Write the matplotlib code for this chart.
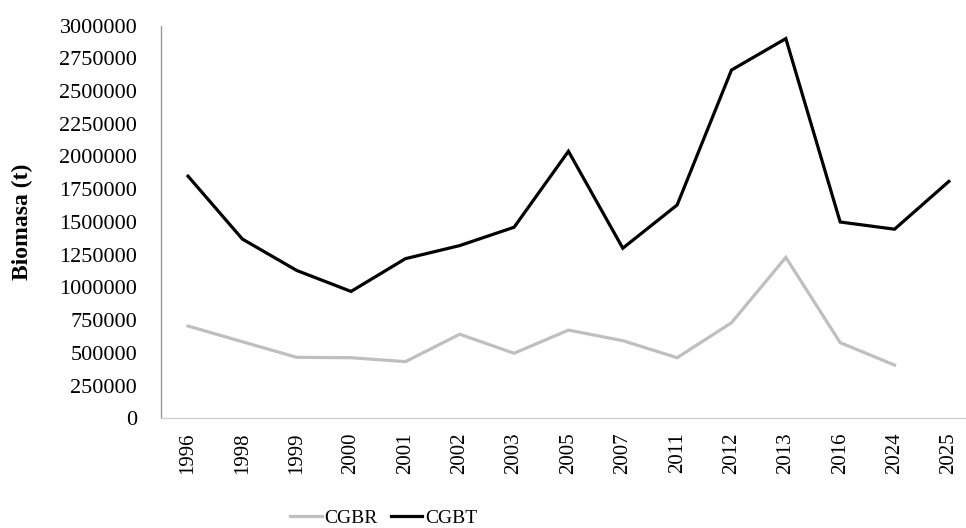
import matplotlib
matplotlib.use("Agg")
import matplotlib.pyplot as plt

years = ["1996", "1998", "1999", "2000", "2001", "2002", "2003", "2005",
         "2007", "2011", "2012", "2013", "2016", "2024", "2025"]
cgbr = [706000, 586000, 467000, 464000, 434000, 643000, 498000, 675000,
        594000, 464000, 731000, 1230000, 579000, 408000, None]
cgbt = [1850000, 1370000, 1130000, 970000, 1220000, 1320000, 1460000, 2040000,
        1300000, 1630000, 2660000, 2900000, 1500000, 1445000, 1810000]
yticks = list(range(0, 3000001, 250000))

plt.rcParams['font.family'] = ['Liberation Serif', 'DejaVu Serif']

fig = plt.figure(figsize=(9.66, 5.28), dpi=100)
ax = fig.add_axes([0.1665, 0.2074, 1.0104 - 0.1665, 0.9517 - 0.2074])

x = list(range(len(years)))
xr = [i for i, v in zip(x, cgbr) if v is not None]
yr = [v for v in cgbr if v is not None]
ax.plot(xr, yr, color='#BFBFBF', lw=2.3, label='CGBR', solid_joinstyle='miter')
ax.plot(x, cgbt, color='#000000', lw=2.3, label='CGBT', solid_joinstyle='miter')

ax.set_xlim(-0.5, len(years) - 0.5)
ax.set_ylim(0, 3000000)
ax.set_yticks(yticks)
ax.set_yticklabels([str(v) for v in yticks], fontsize=16)
ax.set_xticks(x)
ax.set_xticklabels(years, rotation=90, fontsize=15)
ax.tick_params(axis='both', length=0)
ax.tick_params(axis='y', pad=17)
ax.tick_params(axis='x', pad=10)

for s in ['top', 'right']:
    ax.spines[s].set_visible(False)
ax.spines['left'].set_color('#9A9A9A')
ax.spines['bottom'].set_color('#D0D0D0')
ax.spines['left'].set_linewidth(1)
ax.spines['bottom'].set_linewidth(1)

fig.text(22 / 966, 1 - 222 / 528, 'Biomasa (t)', rotation=90, fontsize=17,
         fontweight='bold', ha='center', va='center')

fig.legend(loc='center', bbox_to_anchor=(384 / 966, 1 - 518 / 528), ncol=2,
           frameon=False, fontsize=14, handlelength=1.6, handletextpad=0.15,
           columnspacing=0.7)

fig.savefig('out.png', dpi=100)
